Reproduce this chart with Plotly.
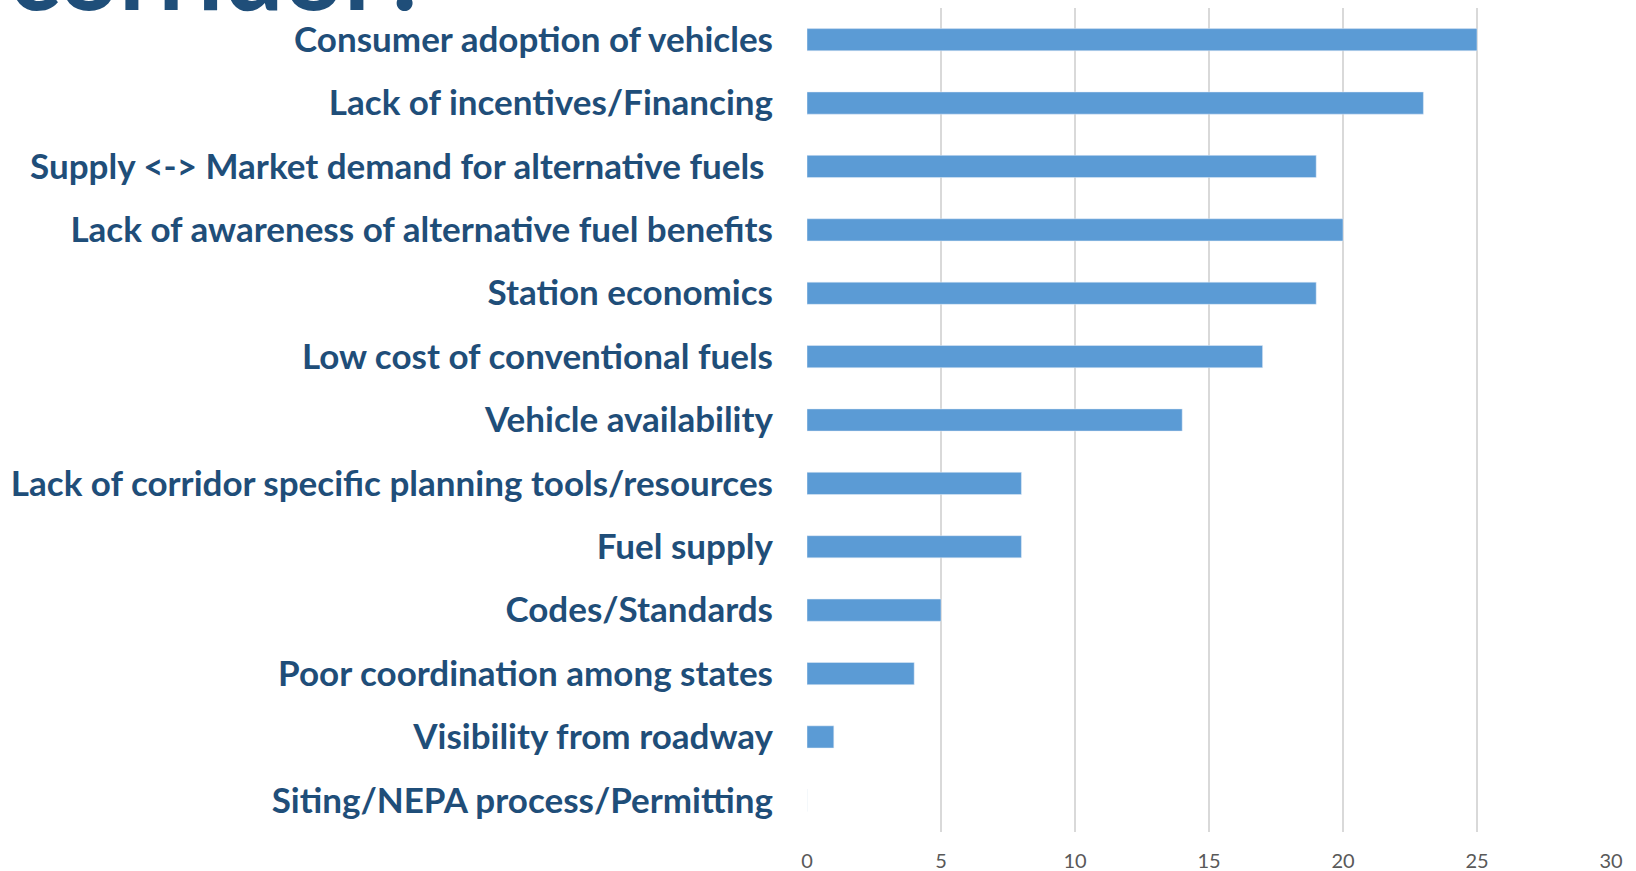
import plotly.graph_objects as go

# categories top -> bottom as in the picture
categories = [
    "Consumer adoption of vehicles",
    "Lack of incentives/Financing",
    "Supply <-> Market demand for alternative fuels ",
    "Lack of awareness of alternative fuel benefits",
    "Station economics",
    "Low cost of conventional fuels",
    "Vehicle availability",
    "Lack of corridor specific planning tools/resources",
    "Fuel supply",
    "Codes/Standards",
    "Poor coordination among states",
    "Visibility from roadway",
    "Siting/NEPA process/Permitting",
]
votes = [25, 23, 19, 20, 19, 17, 14, 8, 8, 5, 4, 1, 0]

label_color = "#1F4E79"

fig = go.Figure()
fig.add_trace(go.Bar(
    x=votes, y=categories, orientation="h",
    marker_color="#5B9BD5", width=0.35,
))

# cut-off slide title above the chart
fig.add_annotation(
    text="corridor?", xref="paper", yref="paper",
    x=-0.995, y=0.969, xanchor="left", yanchor="bottom",
    showarrow=False,
    font=dict(family="Lato", size=105, color=label_color, weight="bold"),
)

fig.update_layout(
    width=1636, height=871,
    margin=dict(l=807, r=25, t=8, b=39),
    plot_bgcolor="white", paper_bgcolor="white",
    showlegend=False,
    bargap=0.65,
)
fig.update_xaxes(
    range=[0, 30], dtick=5, showgrid=True, gridcolor="#D9D9D9", gridwidth=1.5,
    zeroline=False, showline=False, ticks="", automargin=False,
    tickfont=dict(family="Lato", size=20, color="#595959"),
    ticklabelstandoff=15,
)
fig.update_yaxes(
    autorange="reversed", showgrid=False, showline=False, ticks="",
    automargin=False,
    tickfont=dict(family="Lato", size=35, color=label_color, weight="bold"),
    ticklabelstandoff=33,
)

# drop the default page margin so the figure sits at the window corner
fig.write_html("out.html", config={"displayModeBar": False},
               post_script="document.body.style.margin='0';")
